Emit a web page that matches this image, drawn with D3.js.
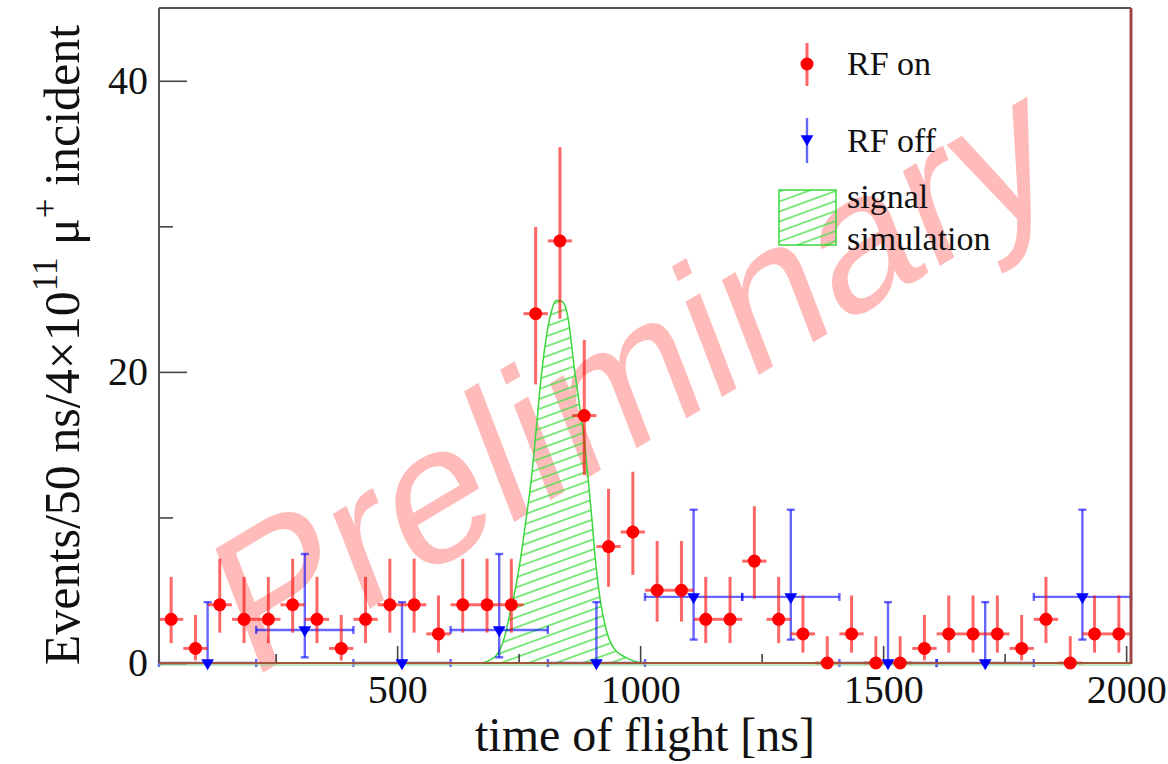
<!DOCTYPE html>
<html>
<head>
<meta charset="utf-8">
<script src="https://cdn.jsdelivr.net/npm/d3@7"></script>
<style>
  html, body { margin: 0; padding: 0; background: #fff; }
  svg { display: block; }
</style>
</head>
<body>
<svg id="chart" width="1168" height="764"></svg>
<script>
// ---- data -------------------------------------------------------------
// RF on: event counts in 50 ns bins (10 ns .. 2010 ns), bin centres
const rfOnCenters = [35, 85, 135, 185, 235, 285, 335, 385, 435, 485,
                     535, 585, 635, 685, 735, 785, 835, 885, 935, 985,
                     1035, 1085, 1135, 1185, 1235, 1285, 1335, 1385, 1435, 1485,
                     1535, 1585, 1635, 1685, 1735, 1785, 1835, 1885, 1935, 1985];
const rfOnCounts = [3, 1, 4, 3, 3, 4, 3, 1, 3, 4,
                    4, 2, 4, 4, 4, 24, 29, 17, 8, 9,
                    5, 5, 3, 3, 7, 3, 2, 0, 2, 0,
                    0, 1, 2, 2, 2, 1, 3, 0, 2, 2];
// 68% Poisson (Garwood) interval limits for the counts above
const poissonLow  = {0: 0, 1: 0.173, 2: 0.708, 3: 1.367, 4: 2.086, 5: 2.840,
                     7: 4.419, 8: 5.232, 9: 6.057, 17: 12.92, 24: 19.14, 29: 23.65};
const poissonHigh = {0: 1.841, 1: 3.300, 2: 4.638, 3: 5.918, 4: 7.163, 5: 8.382,
                     7: 10.77, 8: 11.97, 9: 13.14, 17: 22.20, 24: 29.96, 29: 35.44};
const rfOnHalfWidth = 25;

// RF off: 200 ns bins, normalised to 4x10^11 incident muons
const rfOffCenters = [110, 310, 510, 710, 910, 1110, 1310, 1510, 1710, 1910];
const rfOffValues  = [0, 2.27, 0, 2.27, 0, 4.54, 4.54, 0, 0, 4.54];
const rfOffLow     = [0, 0.39, 0, 0.39, 0, 1.61, 1.61, 0, 0, 1.61];
const rfOffHigh    = [4.18, 7.49, 4.18, 7.49, 4.18, 10.53, 10.53, 4.18, 4.18, 10.53];
const rfOffHalfWidth = 100;

// signal simulation (time of flight [ns], events)
const simTime  = [675, 691, 708, 722, 732, 745, 755, 765, 776, 786,
                  796, 806, 817, 827, 835, 846, 854, 864, 874, 885,
                  893, 901, 909, 918, 930, 946, 969, 1000];
const simValue = [0, 0.2, 0.7, 1.9, 3.4, 5.4, 7.4, 9.8, 12.6, 16.0,
                  19.5, 22.2, 24.1, 24.9, 24.9, 24.5, 23.2, 20.4, 18.0, 15.3,
                  12.6, 9.8, 6.7, 4.3, 2.3, 1.0, 0.4, 0];

const xMajorTicks = [500, 1000, 1500, 2000];
const xMinorTicks = [250, 750, 1250, 1750];
const yMajorTicks = [0, 20, 40];
const yMinorTicks = [10, 30];

// ---- layout -----------------------------------------------------------
const plot = { left: 159, right: 1131, top: 8, bottom: 663 };
const serif = "'Liberation Serif', 'Times New Roman', Times, serif";

const svg = d3.select("#chart");

const x = d3.scaleLinear().domain([10, 2010]).range([plot.left, plot.right]);
const y = d3.scaleLinear().domain([0, 45]).range([plot.bottom, plot.top]);

// hatch pattern for the simulation
const defs = svg.append("defs");
const hatch = defs.append("pattern")
  .attr("id", "simHatch")
  .attr("patternUnits", "userSpaceOnUse")
  .attr("width", 40).attr("height", 9.4)
  .attr("patternTransform", "rotate(-20)");
hatch.append("line")
  .attr("x1", 0).attr("x2", 40).attr("y1", 4.7).attr("y2", 4.7)
  .attr("stroke", "#4ce04c").attr("stroke-width", 1.3);

// ---- watermark ---------------------------------------------------------
svg.append("text")
  .attr("transform", "translate(657,436) rotate(-31) skewX(-10)")
  .attr("text-anchor", "middle")
  .attr("font-family", "'Liberation Sans', Arial, Helvetica, sans-serif")
  .attr("font-size", 190)
  .attr("fill", "#ff0000")
  .attr("fill-opacity", 0.27)
  .text("Preliminary");

// ---- simulation ----------------------------------------------------------
const simPts = simTime.map((t, i) => [t, simValue[i]]);
const area = d3.area()
  .x(d => x(d[0])).y0(y(0)).y1(d => y(d[1]))
  .curve(d3.curveMonotoneX);
const line = d3.line()
  .x(d => x(d[0])).y(d => y(d[1]))
  .curve(d3.curveMonotoneX);
svg.append("path").attr("d", area(simPts)).attr("fill", "url(#simHatch)");
svg.append("path").attr("d", line(simPts))
  .attr("fill", "none").attr("stroke", "#3ad83a").attr("stroke-width", 1.5);

// ---- error bars ----------------------------------------------------------
const bars = svg.append("g");
const capHalf = 4;
rfOffCenters.forEach((c, i) => {
  const cx = x(c), cy = y(rfOffValues[i]);
  const yl = y(rfOffLow[i]), yh = y(rfOffHigh[i]);
  const xl = x(c - rfOffHalfWidth), xr = x(c + rfOffHalfWidth);
  const g = bars.append("g").attr("stroke", "#0000ff").attr("stroke-opacity", 0.6).attr("stroke-width", 2.4);
  g.append("line").attr("x1", cx).attr("x2", cx).attr("y1", yl).attr("y2", yh);
  g.append("line").attr("x1", cx - capHalf).attr("x2", cx + capHalf).attr("y1", yh).attr("y2", yh);
  g.append("line").attr("x1", cx - capHalf).attr("x2", cx + capHalf).attr("y1", yl).attr("y2", yl);
  g.append("line").attr("x1", xl).attr("x2", xr).attr("y1", cy).attr("y2", cy);
  g.append("line").attr("x1", xl).attr("x2", xl).attr("y1", cy - capHalf).attr("y2", cy + capHalf);
  g.append("line").attr("x1", xr).attr("x2", xr).attr("y1", cy - capHalf).attr("y2", cy + capHalf);
});
rfOnCenters.forEach((c, i) => {
  const n = rfOnCounts[i];
  const cx = x(c), cy = y(n);
  const g = bars.append("g").attr("stroke", "#ff0000").attr("stroke-opacity", 0.6).attr("stroke-width", 3);
  g.append("line").attr("x1", cx).attr("x2", cx).attr("y1", y(poissonLow[n])).attr("y2", y(poissonHigh[n]));
  g.append("line").attr("x1", x(c - rfOnHalfWidth)).attr("x2", x(c + rfOnHalfWidth)).attr("y1", cy).attr("y2", cy);
});

// ---- axes ----------------------------------------------------------------
const axisG = svg.append("g");

axisG.append("line")
  .attr("x1", plot.left).attr("x2", plot.right)
  .attr("y1", y(0) + 2).attr("y2", y(0) + 2)
  .attr("stroke", "#8ad08a").attr("stroke-width", 1.2);

const fmt = d3.format("d");
const yMajor = d3.axisLeft(y).tickValues(yMajorTicks).tickFormat(fmt).tickSizeInner(-28).tickSizeOuter(0).tickPadding(11);
const yMinor = d3.axisLeft(y).tickValues(yMinorTicks).tickSizeInner(-14).tickSizeOuter(0).tickFormat("");
const xMajor = d3.axisBottom(x).tickValues(xMajorTicks).tickFormat(fmt).tickSizeInner(-17).tickSizeOuter(0).tickPadding(12);
const xMinor = d3.axisBottom(x).tickValues(xMinorTicks).tickSizeInner(-9).tickSizeOuter(0).tickFormat("");

function styleAxis(g) {
  g.select(".domain").remove();
  g.selectAll(".tick line").attr("stroke", "#444").attr("stroke-width", 1.6);
  g.selectAll(".tick text").attr("font-family", serif).attr("font-size", 40).attr("fill", "#111");
}
axisG.append("g").attr("transform", `translate(${plot.left},0)`).call(yMajor).call(styleAxis);
axisG.append("g").attr("transform", `translate(${plot.left},0)`).call(yMinor).call(styleAxis);
axisG.append("g").attr("transform", `translate(0,${plot.bottom})`).call(xMajor).call(styleAxis);
axisG.append("g").attr("transform", `translate(0,${plot.bottom})`).call(xMinor).call(styleAxis);

// frame
axisG.append("line").attr("x1", plot.left).attr("x2", plot.right).attr("y1", plot.top).attr("y2", plot.top)
  .attr("stroke", "#555").attr("stroke-width", 2);
axisG.append("line").attr("x1", plot.left).attr("x2", plot.left).attr("y1", plot.top).attr("y2", plot.bottom)
  .attr("stroke", "#555").attr("stroke-width", 2);
axisG.append("line").attr("x1", plot.right).attr("x2", plot.right).attr("y1", plot.top).attr("y2", plot.bottom + 1)
  .attr("stroke", "#a04646").attr("stroke-width", 3);
axisG.append("line").attr("x1", plot.left).attr("x2", plot.right).attr("y1", plot.bottom).attr("y2", plot.bottom)
  .attr("stroke", "#a4563a").attr("stroke-width", 2);

// ---- markers -------------------------------------------------------------
const tri = d3.symbol().type(d3.symbolTriangle).size(70);
svg.append("g").selectAll("path").data(rfOffCenters).join("path")
  .attr("d", tri)
  .attr("transform", (c, i) => `translate(${x(c)},${y(rfOffValues[i])}) rotate(180)`)
  .attr("fill", "#0000ff");

svg.append("g").selectAll("circle").data(rfOnCenters).join("circle")
  .attr("cx", c => x(c))
  .attr("cy", (c, i) => y(rfOnCounts[i]))
  .attr("r", 6.5)
  .attr("fill", "#ff0000");

// ---- axis titles -------------------------------------------------------
svg.append("text")
  .attr("x", (plot.left + plot.right) / 2).attr("y", 751)
  .attr("text-anchor", "middle")
  .attr("font-family", serif).attr("font-size", 48).attr("fill", "#111")
  .text("time of flight [ns]");

const yTitle = svg.append("text")
  .attr("transform", "translate(79,345) rotate(-90)")
  .attr("text-anchor", "middle")
  .attr("font-family", serif).attr("font-size", 50).attr("fill", "#111");
yTitle.append("tspan").text("Events/50 ns/4\u00d710");
yTitle.append("tspan").attr("font-size", 35).attr("dy", -22).text("11");
yTitle.append("tspan").attr("dy", 22).text(" \u03bc");
yTitle.append("tspan").attr("font-size", 35).attr("dy", -22).text("+");
yTitle.append("tspan").attr("dy", 22).text(" incident");

// ---- legend ------------------------------------------------------------
const leg = svg.append("g");
const legX = 807;
// RF on
leg.append("line").attr("x1", legX).attr("x2", legX).attr("y1", 43).attr("y2", 86)
  .attr("stroke", "#ff0000").attr("stroke-opacity", 0.6).attr("stroke-width", 3);
leg.append("circle").attr("cx", legX).attr("cy", 64).attr("r", 6.5).attr("fill", "#ff0000");
leg.append("text").attr("x", 847).attr("y", 75)
  .attr("font-family", serif).attr("font-size", 34).attr("fill", "#111").text("RF on");
// RF off
leg.append("line").attr("x1", legX).attr("x2", legX).attr("y1", 118).attr("y2", 163)
  .attr("stroke", "#0000ff").attr("stroke-opacity", 0.6).attr("stroke-width", 2.4);
leg.append("path").attr("d", tri).attr("transform", `translate(${legX},139) rotate(180)`).attr("fill", "#0000ff");
leg.append("text").attr("x", 847).attr("y", 152)
  .attr("font-family", serif).attr("font-size", 34).attr("fill", "#111").text("RF off");
// signal simulation
leg.append("rect").attr("x", 779).attr("y", 190).attr("width", 57).attr("height", 55)
  .attr("fill", "url(#simHatch)").attr("stroke", "#3ad83a").attr("stroke-width", 1.5);
leg.append("text").attr("x", 847).attr("y", 208)
  .attr("font-family", serif).attr("font-size", 34).attr("fill", "#111").text("signal");
leg.append("text").attr("x", 847).attr("y", 250)
  .attr("font-family", serif).attr("font-size", 34).attr("fill", "#111").text("simulation");
</script>
</body>
</html>
